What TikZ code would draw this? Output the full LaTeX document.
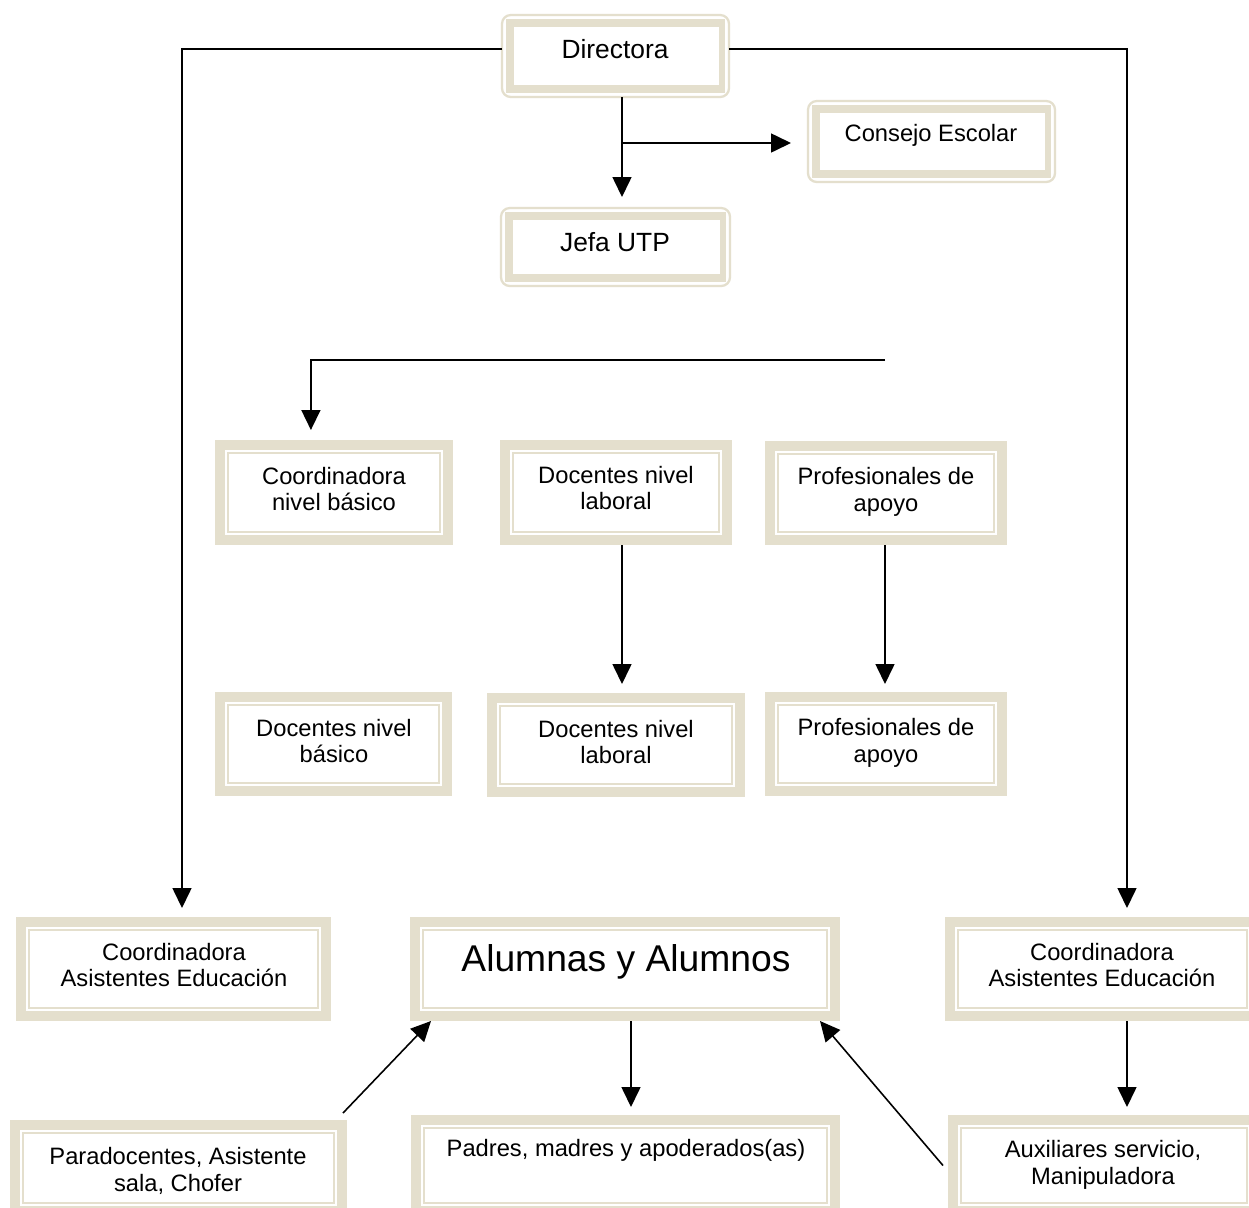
\documentclass[tikz,border=0pt]{standalone}
\usepackage{fontspec}
\setmainfont{Liberation Sans}
\usetikzlibrary{arrows.meta,fit,calc}

\definecolor{frame}{RGB}{228,223,205}

\tikzset{
  boxarea/.style={inner sep=0pt, outer sep=0pt, fill=frame, draw=none},
  roundarea/.style={inner sep=0pt, outer sep=0pt, draw=none},
  innerline/.style={draw=frame, line width=1.1pt},
  txt/.style={align=center, inner sep=0pt, font=\fontsize{13.5}{15.3}\selectfont},
  toptxt/.style={align=center, inner sep=0pt, font=\fontsize{15}{17}\selectfont},
  bigtxt/.style={align=center, inner sep=0pt, font=\fontsize{21.2}{24}\selectfont},
  arr/.style={draw=black, line width=0.9pt, -{Triangle[length=0.4cm, width=0.38cm]}}
}

% square box: thick beige frame, white inside, thin beige inner rule
\newcommand{\orgbox}[5]{%
  \coordinate (#1-nw) at (#2,#3);
  \coordinate (#1-se) at (#4,#5);
  \node[boxarea, fit=(#1-nw)(#1-se)] (#1) {};
  \fill[white] ([shift={(10,10)}]#1-nw) rectangle ([shift={(-10,-10)}]#1-se);
  \draw[innerline] ([shift={(13,13)}]#1-nw) rectangle ([shift={(-13,-13)}]#1-se);
}

% rounded box: thin rounded outline round a thick beige frame
\newcommand{\roundbox}[5]{%
  \coordinate (#1-nw) at (#2,#3);
  \coordinate (#1-se) at (#4,#5);
  \node[roundarea, fit=(#1-nw)(#1-se)] (#1) {};
  \draw[frame, line width=1.3pt, rounded corners=5pt, fill=white] (#1-nw) rectangle (#1-se);
  \fill[frame] ([shift={(4,4)}]#1-nw) rectangle ([shift={(-4,-4)}]#1-se);
  \fill[white] ([shift={(12,12)}]#1-nw) rectangle ([shift={(-10,-12)}]#1-se);
}

\begin{document}
\begin{tikzpicture}[x=0.02cm, y=-0.02cm]
  \clip (0,0) rectangle (1249,1208);
  \fill[white] (0,0) rectangle (1249,1208);

  % top management
  \roundbox{dir}{502}{15}{729}{97}
  \node[toptxt] (dir-t) at (615,49) {Directora};
  \roundbox{cons}{808}{101}{1055}{182}
  \node[txt] (cons-t) at (931,135) {Consejo Escolar};
  \roundbox{jefa}{501}{208}{730}{286}
  \node[toptxt] (jefa-t) at (615,242) {Jefa UTP};

  % middle levels
  \orgbox{cnb}{215}{440}{453}{545}
  \node[txt] (cnb-t) at (334,489) {Coordinadora\\nivel básico};
  \orgbox{dlt}{500}{440}{732}{545}
  \node[txt] (dlt-t) at (616,488) {Docentes nivel\\laboral};
  \orgbox{pat}{765}{441}{1007}{545}
  \node[txt] (pat-t) at (886,492) {Profesionales de\\apoyo};

  \orgbox{dnb}{215}{692}{452}{796}
  \node[txt] (dnb-t) at (334,741) {Docentes nivel\\básico};
  \orgbox{dlb}{487}{693}{745}{797}
  \node[txt] (dlb-t) at (616,742) {Docentes nivel\\laboral};
  \orgbox{pab}{765}{692}{1007}{796}
  \node[txt] (pab-t) at (886,743) {Profesionales de\\apoyo};

  % lower levels
  \orgbox{cael}{16}{917}{331}{1021}
  \node[txt] (cael-t) at (174,965) {Coordinadora\\Asistentes Educación};
  \orgbox{alum}{410}{917}{840}{1021}
  \node[bigtxt] (alum-t) at (626,962) {Alumnas y Alumnos};
  \orgbox{caer}{945}{917}{1260}{1021}
  \node[txt] (caer-t) at (1102,965) {Coordinadora\\Asistentes Educación};

  \orgbox{para}{10}{1120}{347}{1216}
  \node[txt] (para-t) at (178,1171) {Paradocentes, Asistente\\sala, Chofer};
  \orgbox{padres}{411}{1115}{840}{1216}
  \node[txt] (padres-t) at (626,1150) {Padres, madres y apoderados(as)};
  \orgbox{aux}{948}{1115}{1260}{1216}
  \node[txt] (aux-t) at (1103,1165) {Auxiliares servicio,\\Manipuladora};

  % connector routing points
  \coordinate (dl) at (182,49);
  \coordinate (dr) at (1127,49);
  \coordinate (dsplit) at (622,143);
  \coordinate (feed) at (885,360);
  \coordinate (ap) at (631,1060);

  % connectors
  \draw[arr, shorten >=0.18cm] (dir.west |- dl) -| (cael.north -| dl);
  \draw[arr, shorten >=0.18cm] (dir.east |- dr) -| (caer.north -| dr);
  \draw[arr, shorten >=0.22cm] (dir.south -| dsplit) -- (jefa.north -| dsplit);
  \draw[arr, shorten >=0.34cm] (dsplit) -- (cons.west |- dsplit);
  \draw[arr, shorten >=0.2cm] (feed) -| ($(cnb.north west)!0.403!(cnb.north east)$);
  \draw[arr, shorten >=0.18cm] (dlt.south -| dsplit) -- (dlb.north -| dsplit);
  \draw[arr, shorten >=0.16cm] (pat.south -| feed) -- (pab.north -| feed);
  \draw[arr, shorten >=0.16cm] (alum.south -| ap) -- (padres.north -| ap);
  \draw[arr, shorten >=0.16cm] (caer.south -| dr) -- (aux.north -| dr);
  \draw[arr] ([shift={(-4,-7)}]para.north east) -- ([shift={(21,0)}]alum.south west);
  \draw[arr] ([shift={(-5,0)}]aux.west) -- ([shift={(-20,0)}]alum.south east);
\end{tikzpicture}
\end{document}
